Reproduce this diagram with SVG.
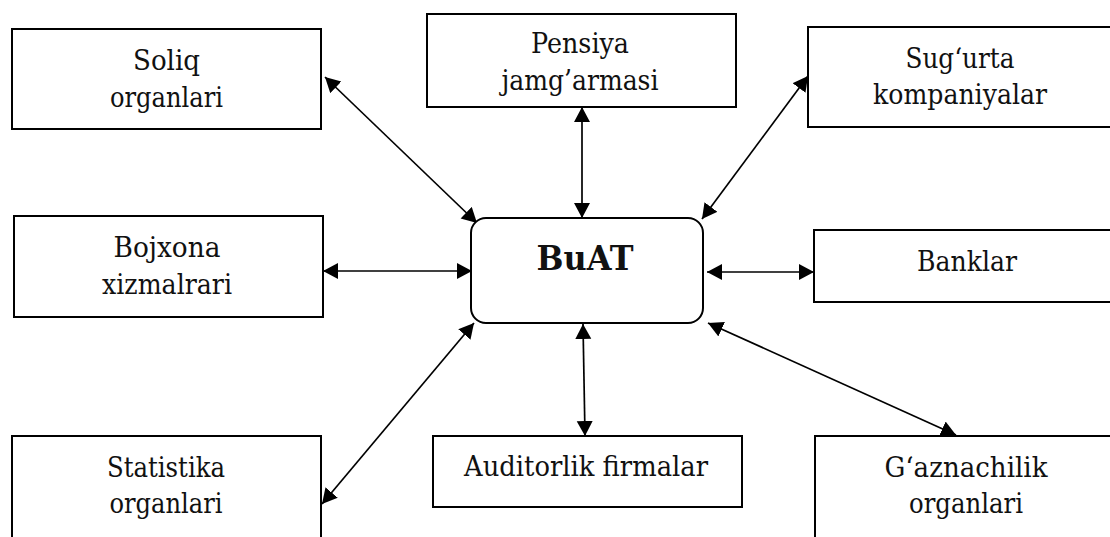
<svg xmlns="http://www.w3.org/2000/svg" width="1110" height="537" viewBox="0 0 1110 537">
  <style>
    .box { fill: #fff; stroke: #000; stroke-width: 2; }
    .lbl { font-family: "DejaVu Serif", serif; font-size: 28.5px; fill: #111; text-anchor: middle; }
    .hub { font-family: "DejaVu Serif", serif; font-size: 34px; font-weight: bold; fill: #111; text-anchor: middle; }
    .link { fill: none; stroke: #000; stroke-width: 1.7; marker-start: url(#head); marker-end: url(#head); }
  </style>
  <defs>
    <marker id="head" markerUnits="userSpaceOnUse" markerWidth="16" markerHeight="17" refX="15" refY="8" orient="auto-start-reverse">
      <path d="M0,0 L15,8 L0,16 z" fill="#000"/>
    </marker>
    <clipPath id="pensiya-clip">
      <rect x="427" y="14" width="309" height="83"/>
    </clipPath>
  </defs>
  <rect width="1110" height="537" fill="#fff"/>

  <!-- connectors -->
  <g id="connectors">
    <line class="link" x1="325" y1="77" x2="477" y2="223"/>
    <line class="link" x1="582" y1="107" x2="582" y2="218"/>
    <line class="link" x1="702" y1="219" x2="808" y2="76"/>
    <line class="link" x1="323" y1="271" x2="472" y2="271"/>
    <line class="link" x1="707" y1="272" x2="814" y2="272"/>
    <line class="link" x1="322" y1="504" x2="474" y2="323"/>
    <line class="link" x1="583" y1="324" x2="585" y2="436"/>
    <line class="link" x1="708" y1="323" x2="956" y2="435"/>
  </g>

  <!-- central node -->
  <g id="buat">
    <rect class="box" x="471" y="218" width="232" height="105" rx="15" ry="15"/>
    <text class="hub" x="585" y="270" textLength="97" lengthAdjust="spacingAndGlyphs">BuAT</text>
  </g>

  <!-- surrounding nodes -->
  <g id="soliq">
    <rect class="box" x="12" y="29" width="309" height="100"/>
    <text class="lbl" x="166.5" y="70" textLength="67" lengthAdjust="spacingAndGlyphs">Soliq</text>
    <text class="lbl" x="166.5" y="107" textLength="113" lengthAdjust="spacingAndGlyphs">organlari</text>
  </g>

  <g id="pensiya">
    <rect class="box" x="427" y="14" width="309" height="93"/>
    <text class="lbl" x="580" y="53" textLength="98" lengthAdjust="spacingAndGlyphs">Pensiya</text>
    <text class="lbl" x="580" y="90" textLength="157" lengthAdjust="spacingAndGlyphs" clip-path="url(#pensiya-clip)">jamg’armasi</text>
  </g>

  <g id="sugurta">
    <rect class="box" x="808" y="27" width="320" height="100"/>
    <text class="lbl" x="960" y="68" textLength="109" lengthAdjust="spacingAndGlyphs">Sug‘urta</text>
    <text class="lbl" x="960" y="104" textLength="174" lengthAdjust="spacingAndGlyphs">kompaniyalar</text>
  </g>

  <g id="bojxona">
    <rect class="box" x="14" y="216" width="309" height="101"/>
    <text class="lbl" x="167" y="257" textLength="107" lengthAdjust="spacingAndGlyphs">Bojxona</text>
    <text class="lbl" x="167" y="294" textLength="130" lengthAdjust="spacingAndGlyphs">xizmalrari</text>
  </g>

  <g id="banklar">
    <rect class="box" x="814" y="230" width="320" height="72"/>
    <text class="lbl" x="967" y="271" textLength="100" lengthAdjust="spacingAndGlyphs">Banklar</text>
  </g>

  <g id="statistika">
    <rect class="box" x="12" y="436" width="309" height="120"/>
    <text class="lbl" x="166" y="477" textLength="118" lengthAdjust="spacingAndGlyphs">Statistika</text>
    <text class="lbl" x="166" y="513" textLength="113" lengthAdjust="spacingAndGlyphs">organlari</text>
  </g>

  <g id="auditorlik">
    <rect class="box" x="433" y="436" width="309" height="71"/>
    <text class="lbl" x="586" y="476" textLength="244" lengthAdjust="spacingAndGlyphs">Auditorlik firmalar</text>
  </g>

  <g id="gaznachilik">
    <rect class="box" x="815" y="436" width="320" height="120"/>
    <text class="lbl" x="966" y="477" textLength="163" lengthAdjust="spacingAndGlyphs">G‘aznachilik</text>
    <text class="lbl" x="966" y="513" textLength="114" lengthAdjust="spacingAndGlyphs">organlari</text>
  </g>
</svg>
